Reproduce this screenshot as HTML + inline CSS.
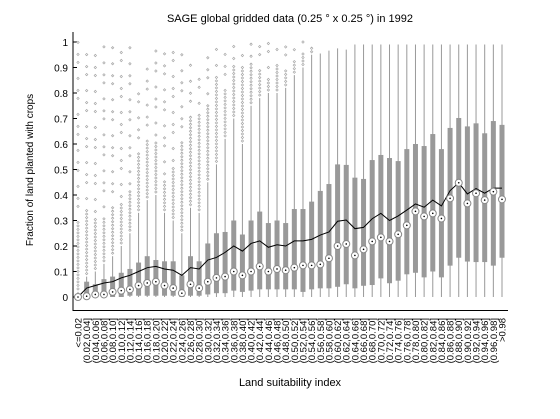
<!DOCTYPE html>
<html><head><meta charset="utf-8"><style>
body{margin:0;background:#fff;width:560px;height:419px;overflow:hidden}
svg{display:block;font-family:"Liberation Sans",sans-serif}
</style></head><body>
<svg id="chart" width="560" height="419">
<text x="290" y="22" font-size="11" text-anchor="middle">SAGE global gridded data (0.25 ° x 0.25 °) in 1992</text>
<text transform="translate(33,170) rotate(-90)" font-size="10" text-anchor="middle">Fraction of land planted with crops</text>
<text x="290" y="386" font-size="11" text-anchor="middle">Land suitability index</text>
<g id="plot"></g>
</svg>
<script>
const q1 = [0,0,0,0,0,0,0.005,0.005,0.005,0.005,0.005,0.005,0,0.005,0.005,0.01,0.015,0.015,0.025,0.02,0.025,0.03,0.03,0.03,0.03,0.03,0.02,0.03,0.034,0.034,0.04,0.05,0.034,0.044,0.047,0.073,0.054,0.064,0.089,0.095,0.077,0.1,0.077,0.123,0.154,0.139,0.137,0.137,0.123,0.154];
const q3 = [0.01,0.06,0.05,0.07,0.08,0.095,0.11,0.135,0.16,0.145,0.14,0.14,0.085,0.16,0.14,0.21,0.25,0.255,0.30,0.245,0.30,0.335,0.29,0.30,0.29,0.345,0.345,0.374,0.416,0.443,0.52,0.518,0.468,0.463,0.537,0.557,0.545,0.533,0.58,0.60,0.592,0.639,0.58,0.663,0.702,0.669,0.681,0.642,0.69,0.675];
const medians = [0,0.003,0.01,0.01,0.02,0.025,0.03,0.045,0.055,0.06,0.045,0.035,0.015,0.05,0.035,0.06,0.075,0.08,0.10,0.085,0.10,0.12,0.10,0.11,0.105,0.115,0.124,0.124,0.128,0.152,0.20,0.208,0.163,0.187,0.218,0.234,0.218,0.246,0.281,0.336,0.316,0.328,0.308,0.387,0.448,0.367,0.407,0.38,0.413,0.383];
const means = [0,0.035,0.045,0.055,0.06,0.075,0.085,0.10,0.115,0.12,0.11,0.105,0.085,0.115,0.11,0.145,0.155,0.175,0.20,0.18,0.21,0.22,0.195,0.205,0.20,0.22,0.22,0.226,0.243,0.255,0.297,0.302,0.268,0.273,0.307,0.328,0.30,0.318,0.341,0.365,0.352,0.38,0.357,0.417,0.448,0.404,0.425,0.407,0.427,0.427];
const whiskerHi = [0.02,0.08,0.1,0.13,0.16,0.2,0.25,0.33,0.38,0.4,0.33,0.3,0.25,0.35,0.33,0.45,0.52,0.62,0.7,0.6,0.75,0.78,0.8,0.8,0.82,0.87,0.9,0.95,0.955,0.966,0.975,0.97,0.99,0.99,0.99,0.99,0.99,0.99,0.99,0.99,0.99,0.99,0.99,0.99,0.99,0.99,0.99,0.99,0.99,0.99];
const denseHi = [0.28,0.33,0.30,0.30,0.35,0.35,0.40,0.55,0.60,0.60,0.45,0.50,0.60,0.70,0.70,0.75,0.85,0.80,0.90,0.90,0.90,0.88,0.85,0.90,0.88,0.92,0.95,0.97,0.955,0.966,0.975,0.97,0.99,0.99,0.99,0.99,0.99,0.99,0.99,0.99,0.99,0.99,0.99,0.99,0.99,0.99,0.99,0.99,0.99,0.99];
const outMax = [1,1,1,1,1,1,0.99,0.82,0.95,1,1,1,0.96,0.93,0.86,1,1,1,1,1,1,1,1,1,1,1,1,1,0.955,0.966,0.975,0.97,0.99,0.99,0.99,0.99,0.99,0.99,0.99,0.99,0.99,0.99,0.99,0.99,0.99,0.99,0.99,0.99,0.99,0.99];
const yTicks = [0,0.1,0.2,0.3,0.4,0.5,0.6,0.7,0.8,0.9,1];
const yTickLabels = ["0","0.1","0.2","0.3","0.4","0.5","0.6","0.7","0.8","0.9","1"];

const NS = "http://www.w3.org/2000/svg";
const g = document.getElementById('plot');
const n = medians.length;
const x0 = 78, x1 = 502;
function xs(i){ return x0 + i*(x1-x0)/(n-1); }
function ys(v){ return 297 - v*255; }
function el(t, a){ const e=document.createElementNS(NS,t); for(const k in a) e.setAttribute(k,a[k]); g.appendChild(e); return e; }
function catLabel(i){
  if(i===0) return "<=0.02";
  if(i===n-1) return ">0.98";
  const a=(i*0.02).toFixed(2), b=((i+1)*0.02).toFixed(2);
  return "("+a+","+b+"]";
}
let ax = el('line',{x1:73,y1:32,x2:73,y2:311,stroke:'#000','stroke-width':1});


let bx = el('line',{x1:73,y1:310.5,x2:508,y2:310.5,stroke:'#000','stroke-width':1});


yTicks.forEach((v,k)=>{
  const t = el('line',{x1:73,y1:ys(v),x2:77,y2:ys(v),stroke:'#000'});
  
  
  const tx = el('text',{x:68,y:ys(v)+4,'font-size':10,'text-anchor':'end'});
  tx.textContent = yTickLabels[k];
  
  
});
for(let i=0;i<n;i++){
  const x = xs(i);
  const top = ys(whiskerHi[i]);
  let step = 0;
  for(let y = top-3; y >= ys(outMax[i]); ){
    const d = el('path',{d:`M${x} ${y-1.2}L${x+1.2} ${y}L${x} ${y+1.2}L${x-1.2} ${y}Z`,fill:'none',stroke:'#aaa','stroke-width':0.7});
    
    
    step++;
    y -= (y > ys(denseHi[i])) ? 3.5 : (8 + (step%3)*4);
  }
  const w = el('line',{x1:x,y1:ys(0),x2:x,y2:top,stroke:'#999','stroke-width':1});
  
  
  const b = el('rect',{x:x-2.5,y:ys(q3[i]),width:5,height:Math.max(1,ys(q1[i])-ys(q3[i])),fill:'#999'});
  
  
  const lab = el('text',{transform:`translate(${x+3.5},318) rotate(-90)`,'font-size':9.5,'text-anchor':'end'});
  lab.textContent = catLabel(i);
  
  
}
let pts = means.map((v,i)=>xs(i)+','+ys(v)).join(' ');
const ml = el('polyline',{points:pts,fill:'none',stroke:'#000','stroke-width':1});


for(let i=0;i<n;i++){
  const c = el('circle',{cx:xs(i),cy:ys(medians[i]),r:3.5,fill:'#fff',stroke:'#888','stroke-width':1});
  
  
  const d = el('circle',{cx:xs(i),cy:ys(medians[i]),r:0.8,fill:'#000'});
  
  
}
</script>
</body></html>
